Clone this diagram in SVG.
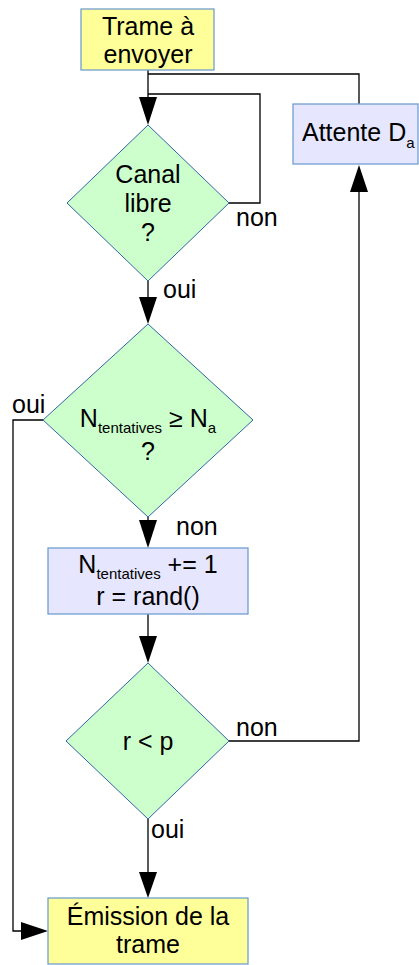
<svg xmlns="http://www.w3.org/2000/svg" width="419" height="965" viewBox="0 0 419 965">
<style>
text{font-family:"Liberation Sans",Arial,sans-serif;font-size:25px;fill:#000}
.c{text-anchor:middle}
.sub{font-size:15px}
.yel{fill:#ffff99;stroke:#729fcf;stroke-width:1.3}
.lav{fill:#e6e6ff;stroke:#729fcf;stroke-width:1.3}
.dia{fill:#ccffcc;stroke:#3465a4;stroke-width:1}
.ln{fill:none;stroke:#000;stroke-width:1.3}
.ah{fill:#000}
</style>
<rect width="419" height="965" fill="#fff"/>
<g id="connectors">
<path class="ln" d="M148 70V100"/>
<path class="ah" d="M139 97h18l-9 28z"/>
<path class="ln" d="M148 74H359V104"/>
<path class="ln" d="M148 94H260V203H229"/>
<path class="ln" d="M148 281V300"/>
<path class="ah" d="M139 297h18l-9 27z"/>
<path class="ln" d="M148 517V522"/>
<path class="ah" d="M139 520h18l-9 28z"/>
<path class="ln" d="M43 420H13V931H25"/>
<path class="ah" d="M21 922v18l27-9z"/>
<path class="ln" d="M148 614V640"/>
<path class="ah" d="M139 636h18l-9 27z"/>
<path class="ln" d="M229 741H359V190"/>
<path class="ah" d="M350 192h18l-9-27z"/>
<path class="ln" d="M148 819V875"/>
<path class="ah" d="M139 872h18l-9 26z"/>
</g>
<g id="n-trame">
<rect class="yel" x="81" y="9" width="133" height="61"/>
<text class="c" x="148" y="35">Trame à</text>
<text class="c" x="148" y="63">envoyer</text>
</g>
<g id="n-attente">
<rect class="lav" x="293" y="104" width="125" height="60"/>
<text x="302" y="141">Attente D<tspan class="sub" dy="7">a</tspan></text>
</g>
<g id="n-canal">
<path class="dia" d="M148 125L229 203L148 281L67 203Z"/>
<text class="c" x="148" y="183">Canal</text>
<text class="c" x="148" y="212">libre</text>
<text class="c" x="148" y="241">?</text>
</g>
<g id="n-ntent">
<path class="dia" d="M148 324L253 420L148 517L43 420Z"/>
<text class="c" x="148" y="427">N<tspan class="sub" dy="6">tentatives</tspan><tspan dy="-6"> ≥ N</tspan><tspan class="sub" dy="6">a</tspan></text>
<text class="c" x="148" y="460">?</text>
</g>
<g id="n-incr">
<rect class="lav" x="48" y="548" width="200" height="66"/>
<text class="c" x="148" y="573">N<tspan class="sub" dy="6">tentatives</tspan><tspan dy="-6"> += 1</tspan></text>
<text class="c" x="148" y="605">r = rand()</text>
</g>
<g id="n-rp">
<path class="dia" d="M148 663L229 741L148 819L66 741Z"/>
<text class="c" x="148" y="750">r &lt; p</text>
</g>
<g id="n-emission">
<rect class="yel" x="48" y="898" width="200" height="66"/>
<text class="c" x="148" y="925">Émission de la</text>
<text class="c" x="148" y="953">trame</text>
</g>
<g id="labels">
<text x="236" y="226">non</text>
<text x="163" y="298">oui</text>
<text x="12" y="413">oui</text>
<text x="176" y="535">non</text>
<text x="236" y="736">non</text>
<text x="151" y="838">oui</text>
</g>
</svg>
